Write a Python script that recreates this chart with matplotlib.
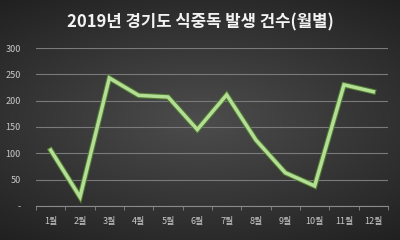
import numpy as np
import matplotlib
matplotlib.use("Agg")
import matplotlib.pyplot as plt
import matplotlib.patheffects as pe

plt.rcParams['font.family'] = ['Noto Sans CJK KR', 'DejaVu Sans']

months = ['1월', '2월', '3월', '4월', '5월', '6월', '7월', '8월', '9월', '10월', '11월', '12월']
cases = [106, 17, 243, 210, 207, 145, 211, 125, 63, 38, 230, 217]
y_ticks = [0, 50, 100, 150, 200, 250, 300]
y_labels = ['-', '50', '100', '150', '200', '250', '300']

fig = plt.figure(figsize=(4, 2.4), dpi=100)

# dark background with a soft lighter centre
bg = fig.add_axes([0, 0, 1, 1])
yy, xx = np.mgrid[-1:1:240j, -1:1:400j]
r = np.sqrt((xx * 0.9) ** 2 + (yy * 1.1) ** 2)
shade = 0.30 - 0.17 * np.clip(r, 0, 1.4) / 1.4
bg.imshow(np.dstack([shade] * 3), aspect='auto', extent=[0, 1, 0, 1])
bg.axis('off')

ax = fig.add_axes([0.09, 0.142, 0.88, 0.658])
ax.set_facecolor('none')
x = np.arange(len(months))
ax.plot(x, cases, color='#b4de96', lw=2.5, solid_joinstyle='miter',
        path_effects=[pe.Stroke(linewidth=4.0, foreground='#4f7d30'), pe.Normal()])

ax.set_xlim(-0.5, len(months) - 0.5)
ax.set_ylim(0, 300)
ax.set_yticks(y_ticks)
ax.set_yticklabels(y_labels)
ax.set_xticks(x)
ax.set_xticklabels(months)
ax.set_xticks(np.arange(-0.5, len(months)), minor=True)
ax.grid(axis='y', color='#7a7a7a', lw=0.8)
ax.set_axisbelow(True)
for s in ['top', 'right', 'left']:
    ax.spines[s].set_visible(False)
ax.spines['bottom'].set_color('#8a8a8a')
ax.tick_params(axis='y', length=0, labelsize=6.5, colors='#c8c8c8', pad=11)
ax.tick_params(axis='x', which='major', length=0, labelsize=6.5, colors='#c8c8c8', pad=8)
ax.tick_params(axis='x', which='minor', length=3, color='#8a8a8a')
for lab in ax.get_yticklabels():
    lab.set_horizontalalignment('right')

fig.text(0.5, 0.905, '2019년 경기도 식중독 발생 건수(월별)', ha='center', va='center',
         color='#f2f2f2', fontsize=12, fontweight='bold')

fig.savefig('out.png', dpi=100)
